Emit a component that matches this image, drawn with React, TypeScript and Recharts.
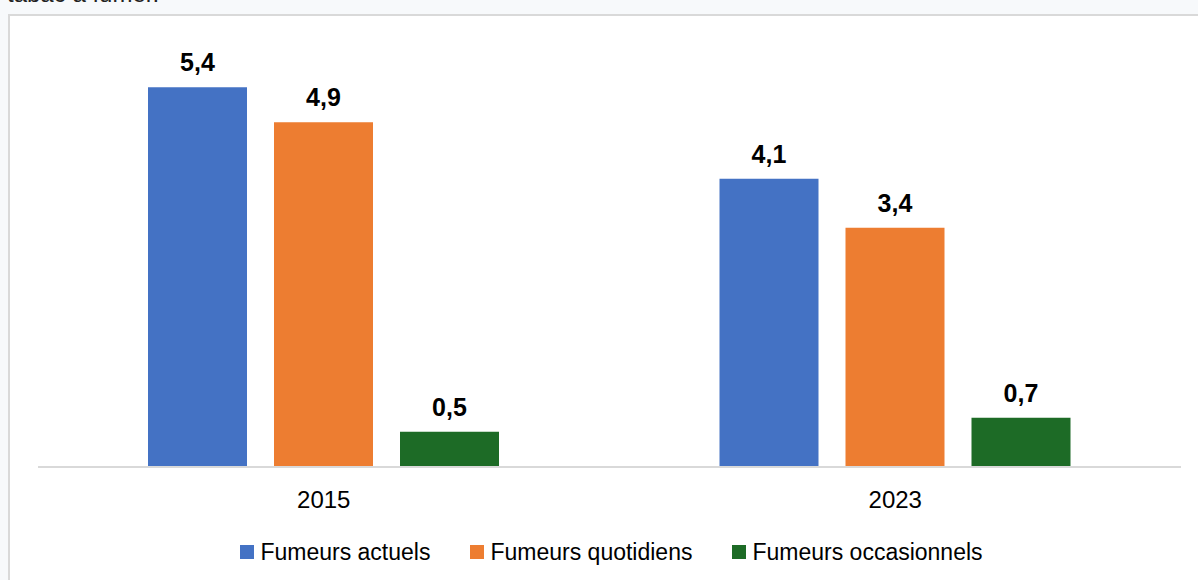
import React from 'react';
import { BarChart, Bar, XAxis, YAxis, Legend, LabelList } from 'recharts';

// Années (catégories)
const years = ['2015', '2023'];

// Valeurs par série (%)
const fumeursActuels = [5.4, 4.1];
const fumeursQuotidiens = [4.9, 3.4];
const fumeursOccasionnels = [0.5, 0.7];

const seriesNames = ['Fumeurs actuels', 'Fumeurs quotidiens', 'Fumeurs occasionnels'];
const seriesColors = ['#4472C4', '#ED7D31', '#1D6B26'];

const data = years.map((year, i) => ({
  year,
  actuels: fumeursActuels[i],
  quotidiens: fumeursQuotidiens[i],
  occasionnels: fumeursOccasionnels[i],
}));

const keys = ['actuels', 'quotidiens', 'occasionnels'];

const FONT = '"Liberation Sans", Arial, sans-serif';

const formatValue = (v: any) => String(v).replace('.', ',');

const CustomLegend = () => (
  <div
    style={{
      height: 50,
      display: 'flex',
      alignItems: 'center',
      justifyContent: 'center',
      gap: 40,
      fontFamily: FONT,
      fontSize: 23,
      color: '#000',
      paddingLeft: 4,
    }}
  >
    {seriesNames.map((name, i) => (
      <div key={name} style={{ display: 'flex', alignItems: 'center' }}>
        <span
          style={{
            display: 'inline-block',
            width: 14,
            height: 14,
            background: seriesColors[i],
            marginRight: 6,
          }}
        />
        <span>{name}</span>
      </div>
    ))}
  </div>
);

const App: React.FC = () => {
  return (
    <div
      style={{
        position: 'fixed',
        left: 0,
        top: 0,
        width: 1198,
        height: 580,
        overflow: 'hidden',
        background: '#f7f9fb',
      }}
    >
      {/* titre coupé en haut */}
      <div
        style={{
          position: 'absolute',
          left: 7,
          top: -20,
          fontFamily: FONT,
          fontSize: 24,
          color: '#222',
          whiteSpace: 'nowrap',
        }}
      >
        tabac à fumer.
      </div>

      {/* cadre du graphique */}
      <div
        style={{
          position: 'absolute',
          left: 8,
          top: 14,
          width: 1250,
          height: 620,
          border: '2px solid #d9d9d9',
          background: '#fff',
        }}
      />

      <div style={{ position: 'absolute', left: 0, top: 0 }}>
        <BarChart
          width={1198}
          height={580}
          data={data}
          margin={{ top: 45, right: 17, left: 38, bottom: 3 }}
          barCategoryGap={110}
          barGap={27}
        >
          <XAxis
            dataKey="year"
            height={60}
            tickLine={false}
            axisLine={{ stroke: '#d9d9d9', strokeWidth: 2 }}
            tickMargin={18}
            tick={{ fill: '#000', fontSize: 24, fontFamily: FONT }}
          />
          <YAxis hide domain={[0, 6]} />
          <Legend verticalAlign="bottom" content={<CustomLegend />} />
          {keys.map((k, i) => (
            <Bar
              key={k}
              dataKey={k}
              name={seriesNames[i]}
              fill={seriesColors[i]}
              isAnimationActive={false}
            >
              <LabelList
                dataKey={k}
                position="top"
                offset={16}
                formatter={formatValue}
                style={{ fill: '#000', fontWeight: 'bold', fontSize: 25, fontFamily: FONT }}
              />
            </Bar>
          ))}
        </BarChart>
      </div>
    </div>
  );
};

export default App;
